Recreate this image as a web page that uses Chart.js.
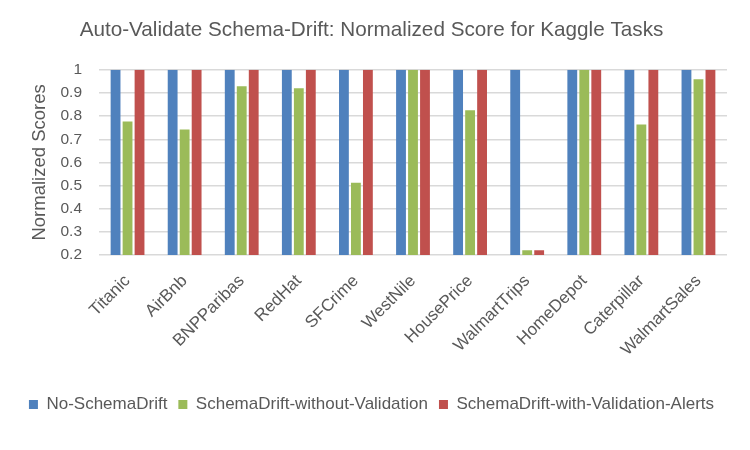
<!DOCTYPE html>
<html>
<head>
<meta charset="utf-8">
<script src="https://cdn.jsdelivr.net/npm/chart.js@4/dist/chart.umd.min.js"></script>
<style>
html,body{margin:0;padding:0;background:#fff;}
#wrap{width:750px;height:450px;}
</style>
</head>
<body>
<div id="wrap"><canvas id="c" width="750" height="450"></canvas></div>
<script>
const categories = ["Titanic","AirBnb","BNPParibas","RedHat","SFCrime","WestNile","HousePrice","WalmartTrips","HomeDepot","Caterpillar","WalmartSales"];
const noSchemaDrift = [1,1,1,1,1,1,1,1,1,1,1];
const driftWithoutValidation = [0.777,0.742,0.929,0.92,0.512,1,0.825,0.22,1,0.764,0.959];
const driftWithAlerts = [1,1,1,1,1,1,1,0.22,1,1,1];
const seriesNames = ["No-SchemaDrift","SchemaDrift-without-Validation","SchemaDrift-with-Validation-Alerts"];
const yTickValues = [0.2,0.3,0.4,0.5,0.6,0.7,0.8,0.9,1];

const FONT = "'Liberation Sans', 'Open Sans', sans-serif";
const TXT = '#595959';

new Chart(document.getElementById('c'), {
  type: 'bar',
  data: {
    labels: categories,
    datasets: [
      {label: seriesNames[0], data: noSchemaDrift, backgroundColor: '#4F81BD'},
      {label: seriesNames[1], data: driftWithoutValidation, backgroundColor: '#9BBB59'},
      {label: seriesNames[2], data: driftWithAlerts, backgroundColor: '#C0504D'}
    ]
  },
  options: {
    responsive: false,
    animation: false,
    devicePixelRatio: 1,
    layout: {padding: {left: 16, right: 23, top: 0, bottom: 27}},
    datasets: {bar: {categoryPercentage: 0.63, barPercentage: 0.82}},
    plugins: {
      title: {display: true, text: 'Auto-Validate Schema-Drift: Normalized Score for Kaggle Tasks', color: TXT,
        font: {family: FONT, size: 20.7, weight: 'normal'}, padding: {top: 18, bottom: 27}},
      legend: {position: 'bottom', labels: {color: TXT, font: {family: FONT, size: 17}, boxWidth: 9, boxHeight: 9, padding: 11}},
      tooltip: {enabled: false}
    },
    scales: {
      x: {
        grid: {display: false},
        border: {display: false},
        ticks: {color: TXT, font: {family: FONT, size: 17}, minRotation: 45, maxRotation: 45, padding: 8, autoSkip: false},
        afterFit: s => { s.height = 130; }
      },
      y: {
        min: 0.2, max: 1,
        afterBuildTicks: s => { s.ticks = yTickValues.map(v => ({value: v})); },
        grid: {color: '#D9D9D9', lineWidth: 1.5, drawTicks: false},
        border: {display: false},
        ticks: {color: TXT, font: {family: FONT, size: 15.5}, padding: 17, autoSkip: false,
          callback: v => String(Math.round(v*10)/10)},
        title: {display: true, text: 'Normalized Scores', color: TXT, font: {family: FONT, size: 18.5}, padding: {top: 13, bottom: 0}},
        afterFit: s => { s.width = 99 - 16; }
      }
    }
  }
});
</script>
</body>
</html>
